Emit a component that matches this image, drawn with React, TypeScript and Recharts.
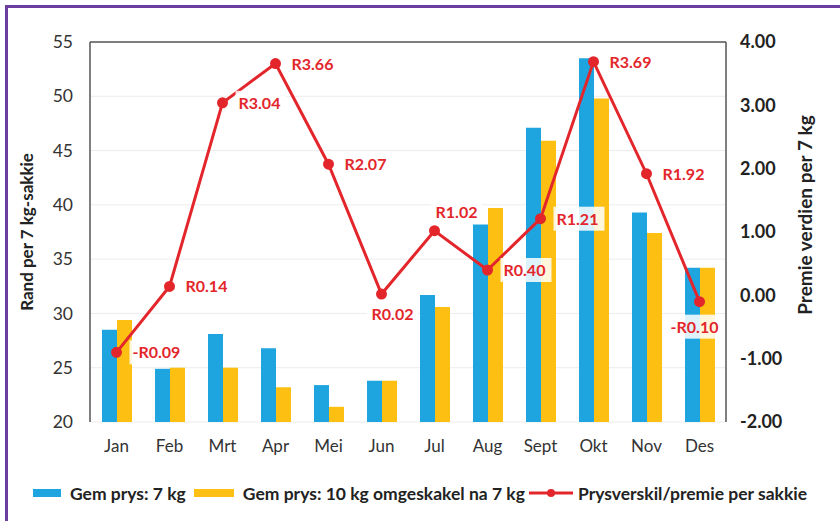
import React from 'react'
import { ComposedChart, Bar, Line, XAxis, YAxis, CartesianGrid, Legend, LabelList, ReferenceLine } from 'recharts'

const months = ['Jan', 'Feb', 'Mrt', 'Apr', 'Mei', 'Jun', 'Jul', 'Aug', 'Sept', 'Okt', 'Nov', 'Des']
const price7kg = [28.5, 24.9, 28.1, 26.8, 23.4, 23.8, 31.7, 38.2, 47.1, 53.5, 39.3, 34.2]
const price10kg = [29.4, 25.0, 25.0, 23.2, 21.4, 23.8, 30.6, 39.7, 45.9, 49.8, 37.4, 34.2]
const premium = [-0.9, 0.14, 3.04, 3.66, 2.07, 0.02, 1.02, 0.4, 1.21, 3.69, 1.92, -0.1]
const premiumLabels = ['-R0.09', 'R0.14', 'R3.04', 'R3.66', 'R2.07', 'R0.02', 'R1.02', 'R0.40', 'R1.21', 'R3.69', 'R1.92', '-R0.10']
const leftTicks = [20, 25, 30, 35, 40, 45, 50, 55]
const rightTicks = [-2, -1, 0, 1, 2, 3, 4]

const BLUE = '#1ea5e0'
const YELLOW = '#fcbf12'
const RED = '#e3262b'
const FONT = 'Lato, "Open Sans", sans-serif'

const data = months.map((m, i) => ({
  month: m,
  p7: price7kg[i],
  p10: price10kg[i],
  prem: premium[i],
  lbl: premiumLabels[i],
}))

// where each red label sits relative to its point
const side: Record<string, string> = { Jun: 'below', Jul: 'above', Des: 'below2' }

const PremLabel = (props: any) => {
  const { x, y, index } = props
  const text = premiumLabels[index]
  const s = side[months[index]] || 'right'
  const w = text.length * 9 + 6
  let tx = x + 16
  let ty = y
  let anchor: 'start' | 'middle' = 'start'
  if (s === 'below') { tx = x + 11; ty = y + 20; anchor = 'middle' }
  if (s === 'above') { tx = x + 22; ty = y - 19; anchor = 'middle' }
  if (s === 'below2') { tx = x - 5; ty = y + 25; anchor = 'middle' }
  const rx = anchor === 'start' ? tx - 3 : tx - w / 2
  return (
    <g>
      <rect x={rx} y={ty - 12} width={w} height={24} fill="#fff" fillOpacity={0.85} />
      <text x={tx} y={ty + 6} textAnchor={anchor} fill={RED} fontSize={16} fontWeight={700} fontFamily={FONT}>
        {text}
      </text>
    </g>
  )
}

const LegendContent = () => (
  <div style={{ height: 30, display: 'flex', alignItems: 'center', fontFamily: FONT, fontWeight: 700, fontSize: 17.5, color: '#222', paddingLeft: 33, whiteSpace: 'nowrap' }}>
    <span style={{ display: 'inline-block', width: 28, height: 8, background: BLUE, marginRight: 9 }} />
    <span style={{ marginRight: 8 }}>Gem prys: 7 kg</span>
    <span style={{ display: 'inline-block', width: 40, height: 8, background: YELLOW, marginRight: 9 }} />
    <span style={{ marginRight: 4 }}>Gem prys: 10 kg omgeskakel na 7 kg</span>
    <svg width={44} height={12} style={{ marginRight: 5 }}>
      <line x1={0} y1={6} x2={44} y2={6} stroke={RED} strokeWidth={3} />
      <circle cx={22} cy={6} r={4} fill={RED} />
    </svg>
    <span>Prysverskil/premie per sakkie</span>
  </div>
)

export default function App() {
  return (
    <div style={{ position: 'fixed', left: 0, top: 0, width: 840, height: 521, background: '#fff' }}>
      <div style={{ position: 'absolute', left: 5, top: 5, width: 840, height: 530, borderLeft: '3px solid #6b3fa0', borderTop: '3px solid #6b3fa0' }} />
      <div style={{ position: 'absolute', left: 0, top: 0 }}>
        <ComposedChart width={840} height={521} data={data} margin={{ top: 42, right: 0, left: 0, bottom: 13 }} barGap={0} barSize={15}>
          <CartesianGrid vertical={false} stroke="#ececec" yAxisId="left" />
          <XAxis dataKey="month" axisLine={false} tickLine={false} height={56} tickMargin={12}
            tick={{ fill: '#333', fontSize: 17, fontFamily: FONT }} />
          <YAxis yAxisId="left" domain={[20, 55]} ticks={leftTicks} width={90} tickLine={false} tickMargin={11}
            axisLine={{ stroke: '#555', strokeWidth: 1.5 }} tick={{ fill: '#333', fontSize: 17.5, fontFamily: FONT }}
            label={{ content: () => (
              <text x={33} y={232} transform="rotate(-90 33 232)" textAnchor="middle" fill="#222" fontSize={17} fontWeight={700} fontFamily={FONT}>
                Rand per 7 kg-sakkie
              </text>
            ) }} />
          <YAxis yAxisId="right" orientation="right" domain={[-2, 4]} ticks={rightTicks} width={114} tickLine={false} tickMargin={8}
            axisLine={{ stroke: '#555', strokeWidth: 1.5 }} tickFormatter={(v: number) => v.toFixed(2)}
            tick={{ fill: '#222', fontSize: 18, fontWeight: 700, fontFamily: FONT }}
            label={{ content: () => (
              <text x={812} y={215} transform="rotate(-90 812 215)" textAnchor="middle" fill="#222" fontSize={19} fontWeight={700} fontFamily={FONT}>
                Premie verdien per 7 kg
              </text>
            ) }} />
          <ReferenceLine yAxisId="left" y={55} stroke="#555" strokeWidth={1.5} />
          <Bar yAxisId="left" dataKey="p7" name="Gem prys: 7 kg" fill={BLUE} isAnimationActive={false} />
          <Bar yAxisId="left" dataKey="p10" name="Gem prys: 10 kg omgeskakel na 7 kg" fill={YELLOW} isAnimationActive={false} />
          <Line yAxisId="right" dataKey="prem" name="Prysverskil/premie per sakkie" stroke={RED} strokeWidth={3}
            dot={{ r: 4, fill: RED, stroke: RED }} isAnimationActive={false}>
            <LabelList dataKey="lbl" content={PremLabel} />
          </Line>
          <Legend verticalAlign="bottom" content={LegendContent} />
        </ComposedChart>
      </div>
    </div>
  )
}
